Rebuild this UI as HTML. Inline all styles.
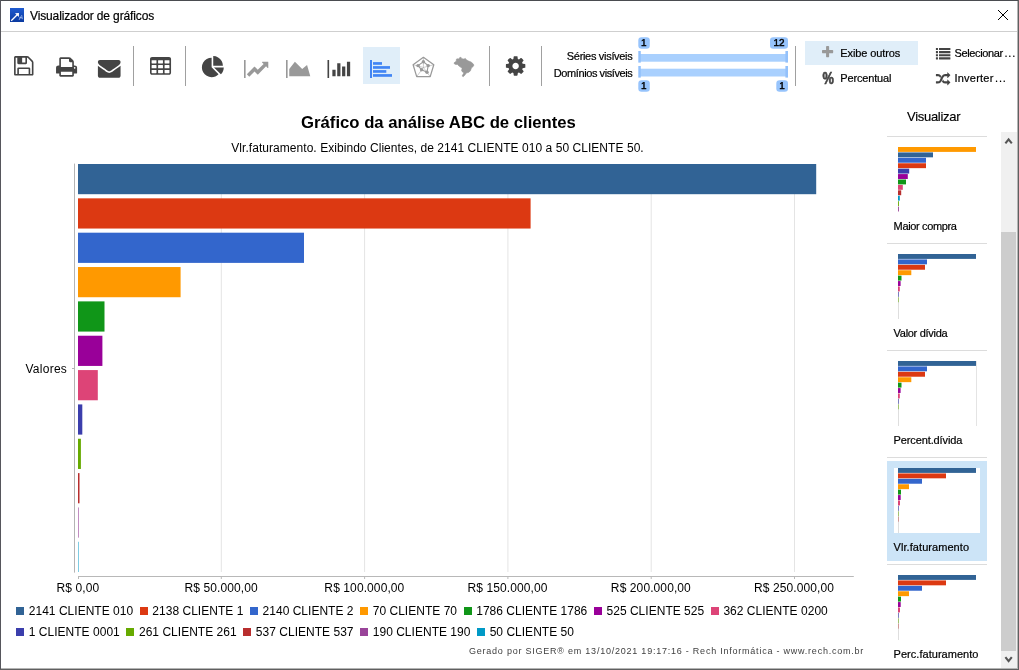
<!DOCTYPE html>
<html lang="pt-BR"><head><meta charset="utf-8"><title>Visualizador de gráficos</title>
<style>
html,body{margin:0;padding:0}
body{width:1019px;height:670px;overflow:hidden;background:#fff;position:relative;font-family:"Liberation Sans",sans-serif;color:#000}
.abs{position:absolute;white-space:nowrap;line-height:1}
svg{position:absolute;left:0;top:0}
.ui{font-size:11px;color:#000;-webkit-text-stroke:0.2px #000}
.t{position:absolute;white-space:nowrap;line-height:14px;height:14px}
.leg{position:absolute;left:16.2px;white-space:nowrap;font-size:12px;line-height:14px;height:14px}
.li{display:inline-block;margin-right:6.6px;letter-spacing:0.02px}
.li i{display:inline-block;width:8px;height:8px;margin-right:4.6px;vertical-align:-0.2px}
.bd{position:absolute;background:#5c5c5c}
.badge{position:absolute;font-size:10px;font-weight:normal;-webkit-text-stroke:0.45px #000;line-height:11.4px;height:11.4px;text-align:center;color:#000}
</style></head><body>
<svg width="1019" height="670" viewBox="0 0 1019 670" shape-rendering="auto">
<rect x="220.8" y="164" width="1" height="408" fill="#e4e4e4"/>
<rect x="364.1" y="164" width="1" height="408" fill="#e4e4e4"/>
<rect x="507.4" y="164" width="1" height="408" fill="#e4e4e4"/>
<rect x="650.7" y="164" width="1" height="408" fill="#e4e4e4"/>
<rect x="794.0" y="164" width="1" height="408" fill="#e4e4e4"/>
<rect x="78.0" y="576" width="1" height="3" fill="#b8b8b8"/>
<rect x="220.8" y="576" width="1" height="3" fill="#b8b8b8"/>
<rect x="364.1" y="576" width="1" height="3" fill="#b8b8b8"/>
<rect x="507.4" y="576" width="1" height="3" fill="#b8b8b8"/>
<rect x="650.7" y="576" width="1" height="3" fill="#b8b8b8"/>
<rect x="794.0" y="576" width="1" height="3" fill="#b8b8b8"/>
<rect x="74" y="163.6" width="1" height="409" fill="#b4b4b4"/>
<rect x="72" y="368" width="2" height="1" fill="#b4b4b4"/>
<rect x="78" y="576" width="775.8" height="1" fill="#b8b8b8"/>
<rect x="78" y="164.00" width="738.2" height="30.2" fill="#316395"/>
<rect x="78" y="198.34" width="452.6" height="30.2" fill="#dc3912"/>
<rect x="78" y="232.69" width="226.0" height="30.2" fill="#3366cc"/>
<rect x="78" y="267.03" width="102.6" height="30.2" fill="#ff9900"/>
<rect x="78" y="301.38" width="26.5" height="30.2" fill="#109618"/>
<rect x="78" y="335.73" width="24.4" height="30.2" fill="#990099"/>
<rect x="78" y="370.07" width="19.8" height="30.2" fill="#dd4477"/>
<rect x="78" y="404.41" width="4.3" height="30.2" fill="#3b3eac"/>
<rect x="78" y="438.76" width="2.9" height="30.2" fill="#66aa00"/>
<rect x="78" y="473.11" width="1.5" height="30.2" fill="#b82e2e"/>
<rect x="78" y="507.45" width="0.6" height="30.2" fill="#994499"/>
<rect x="78" y="541.79" width="0.5" height="30.2" fill="#0099c6"/>
<rect x="887" y="136" width="100" height="1" fill="#dcdcdc"/>
<rect x="887" y="243" width="100" height="1" fill="#dcdcdc"/>
<rect x="887" y="350" width="100" height="1" fill="#dcdcdc"/>
<rect x="887" y="457" width="100" height="1" fill="#dcdcdc"/>
<rect x="887" y="564" width="100" height="1" fill="#dcdcdc"/>
<rect x="887" y="461" width="100" height="100" fill="#cce4f7"/><rect x="894" y="468" width="86" height="65" fill="#fff"/>
<rect x="898" y="147.00" width="78" height="4.9" fill="#ff9900"/>
<rect x="898" y="152.42" width="35" height="4.9" fill="#316395"/>
<rect x="898" y="157.83" width="28" height="4.9" fill="#3366cc"/>
<rect x="898" y="163.25" width="28" height="4.9" fill="#dc3912"/>
<rect x="898" y="168.67" width="11.2" height="4.9" fill="#3b3eac"/>
<rect x="898" y="174.08" width="9.8" height="4.9" fill="#990099"/>
<rect x="898" y="179.50" width="8" height="4.9" fill="#109618"/>
<rect x="898" y="184.92" width="4.8" height="4.9" fill="#dd4477"/>
<rect x="898" y="190.33" width="3.2" height="4.9" fill="#b82e2e"/>
<rect x="898" y="195.75" width="1.8" height="4.9" fill="#0099c6"/>
<rect x="898" y="201.17" width="0.9" height="4.9" fill="#66aa00"/>
<rect x="898" y="206.58" width="0.9" height="4.9" fill="#994499"/>
<rect x="898" y="254" width="0.6" height="65" fill="#c8c8c8"/>
<rect x="898" y="254.00" width="78" height="4.9" fill="#316395"/>
<rect x="898" y="259.42" width="29" height="4.9" fill="#3366cc"/>
<rect x="898" y="264.83" width="27" height="4.9" fill="#dc3912"/>
<rect x="898" y="270.25" width="13.3" height="4.9" fill="#ff9900"/>
<rect x="898" y="275.67" width="3.5" height="4.9" fill="#109618"/>
<rect x="898" y="281.08" width="2.6" height="4.9" fill="#990099"/>
<rect x="898" y="286.50" width="1.8" height="4.9" fill="#dd4477"/>
<rect x="898" y="291.92" width="0.6" height="4.9" fill="#3b3eac"/>
<rect x="898" y="297.33" width="0.5" height="4.9" fill="#66aa00"/>
<rect x="898" y="361" width="0.6" height="65" fill="#c8c8c8"/>
<rect x="976" y="361" width="0.7" height="65" fill="#d8d8d8"/>
<rect x="898" y="361.00" width="78" height="4.9" fill="#316395"/>
<rect x="898" y="366.42" width="29" height="4.9" fill="#3366cc"/>
<rect x="898" y="371.83" width="27" height="4.9" fill="#dc3912"/>
<rect x="898" y="377.25" width="13.3" height="4.9" fill="#ff9900"/>
<rect x="898" y="382.67" width="3.5" height="4.9" fill="#109618"/>
<rect x="898" y="388.08" width="2.6" height="4.9" fill="#990099"/>
<rect x="898" y="393.50" width="1.8" height="4.9" fill="#dd4477"/>
<rect x="898" y="398.92" width="0.6" height="4.9" fill="#3b3eac"/>
<rect x="898" y="404.33" width="0.5" height="4.9" fill="#66aa00"/>
<rect x="898" y="468" width="0.6" height="65" fill="#c8c8c8"/>
<rect x="898" y="468.00" width="78" height="4.9" fill="#316395"/>
<rect x="898" y="473.42" width="48" height="4.9" fill="#dc3912"/>
<rect x="898" y="478.83" width="24" height="4.9" fill="#3366cc"/>
<rect x="898" y="484.25" width="11" height="4.9" fill="#ff9900"/>
<rect x="898" y="489.67" width="3" height="4.9" fill="#109618"/>
<rect x="898" y="495.08" width="2.7" height="4.9" fill="#990099"/>
<rect x="898" y="500.50" width="2" height="4.9" fill="#dd4477"/>
<rect x="898" y="505.92" width="0.6" height="4.9" fill="#3b3eac"/>
<rect x="898" y="511.33" width="0.5" height="4.9" fill="#66aa00"/>
<rect x="898" y="516.75" width="0.4" height="4.9" fill="#b82e2e"/>
<rect x="898" y="575" width="0.6" height="65" fill="#c8c8c8"/>
<rect x="898" y="575.00" width="78" height="4.9" fill="#316395"/>
<rect x="898" y="580.42" width="48" height="4.9" fill="#dc3912"/>
<rect x="898" y="585.83" width="24" height="4.9" fill="#3366cc"/>
<rect x="898" y="591.25" width="11" height="4.9" fill="#ff9900"/>
<rect x="898" y="596.67" width="3" height="4.9" fill="#109618"/>
<rect x="898" y="602.08" width="2.7" height="4.9" fill="#990099"/>
<rect x="898" y="607.50" width="2" height="4.9" fill="#dd4477"/>
<rect x="898" y="612.92" width="0.6" height="4.9" fill="#3b3eac"/>
<rect x="898" y="618.33" width="0.5" height="4.9" fill="#66aa00"/>
<rect x="898" y="623.75" width="0.4" height="4.9" fill="#b82e2e"/>
<defs><clipPath id="ck"><rect x="0" y="40" width="1019" height="38"/></clipPath></defs>
<rect x="363" y="47" width="37" height="37" fill="#e0eef9"/>
<rect x="805" y="41" width="113" height="24" fill="#e0eef9"/>
<rect x="133" y="46" width="1" height="40" fill="#a0a0a0"/>
<rect x="185" y="46" width="1" height="40" fill="#a0a0a0"/>
<rect x="489" y="46" width="1" height="40" fill="#a0a0a0"/>
<rect x="541" y="46" width="1" height="40" fill="#a0a0a0"/>
<rect x="795" y="46" width="1" height="40" fill="#a0a0a0"/>
<g><path fill="#444444" transform="translate(14.050,73.910) scale(0.012649,-0.012649)" d="M384 0h768v384h-768v-384zM1280 0h128v896q0 14 -10 38.5t-20 34.5l-281 281q-10 10 -34 20t-39 10v-416q0 -40 -28 -68t-68 -28h-576q-40 0 -68 28t-28 68v416h-128v-1280h128v416q0 40 28 68t68 28h832q40 0 68 -28t28 -68v-416zM896 928v320q0 13 -9.5 22.5t-22.5 9.5 h-192q-13 0 -22.5 -9.5t-9.5 -22.5v-320q0 -13 9.5 -22.5t22.5 -9.5h192q13 0 22.5 9.5t9.5 22.5zM1536 896v-928q0 -40 -28 -68t-68 -28h-1344q-40 0 -68 28t-28 68v1344q0 40 28 68t68 28h928q40 0 88 -20t76 -48l280 -280q28 -28 48 -76t20 -88z"/></g>
<g><path fill="#444444" transform="translate(56.050,75.110) scale(0.012649,-0.012649)" d="M384 0h896v256h-896v-256zM384 640h896v384h-160q-40 0 -68 28t-28 68v160h-640v-640zM1536 576q0 26 -19 45t-45 19t-45 -19t-19 -45t19 -45t45 -19t45 19t19 45zM1664 576v-416q0 -13 -9.5 -22.5t-22.5 -9.5h-224v-160q0 -40 -28 -68t-68 -28h-960q-40 0 -68 28t-28 68 v160h-224q-13 0 -22.5 9.5t-9.5 22.5v416q0 79 56.5 135.5t135.5 56.5h64v544q0 40 28 68t68 28h672q40 0 88 -20t76 -48l152 -152q28 -28 48 -76t20 -88v-256h64q79 0 135.5 -56.5t56.5 -135.5z"/></g>
<g><path fill="#444444" transform="translate(97.900,76.141) scale(0.012649,-0.012649)" d="M1792 826v-794q0 -66 -47 -113t-113 -47h-1472q-66 0 -113 47t-47 113v794q44 -49 101 -87q362 -246 497 -345q57 -42 92.5 -65.5t94.5 -48t110 -24.5h1h1q51 0 110 24.5t94.5 48t92.5 65.5q170 123 498 345q57 39 100 87zM1792 1120q0 -79 -49 -151t-122 -123 q-376 -261 -468 -325q-10 -7 -42.5 -30.5t-54 -38t-52 -32.5t-57.5 -27t-50 -9h-1h-1q-23 0 -50 9t-57.5 27t-52 32.5t-54 38t-42.5 30.5q-91 64 -262 182.5t-205 142.5q-62 42 -117 115.5t-55 136.5q0 78 41.5 130t118.5 52h1472q65 0 112.5 -47t47.5 -113z"/></g>
<g><path fill="#444444" transform="translate(150.000,74.760) scale(0.012649,-0.012649)" d="M512 160v192q0 14 -9 23t-23 9h-320q-14 0 -23 -9t-9 -23v-192q0 -14 9 -23t23 -9h320q14 0 23 9t9 23zM512 544v192q0 14 -9 23t-23 9h-320q-14 0 -23 -9t-9 -23v-192q0 -14 9 -23t23 -9h320q14 0 23 9t9 23zM1024 160v192q0 14 -9 23t-23 9h-320q-14 0 -23 -9t-9 -23 v-192q0 -14 9 -23t23 -9h320q14 0 23 9t9 23zM512 928v192q0 14 -9 23t-23 9h-320q-14 0 -23 -9t-9 -23v-192q0 -14 9 -23t23 -9h320q14 0 23 9t9 23zM1024 544v192q0 14 -9 23t-23 9h-320q-14 0 -23 -9t-9 -23v-192q0 -14 9 -23t23 -9h320q14 0 23 9t9 23zM1536 160v192 q0 14 -9 23t-23 9h-320q-14 0 -23 -9t-9 -23v-192q0 -14 9 -23t23 -9h320q14 0 23 9t9 23zM1024 928v192q0 14 -9 23t-23 9h-320q-14 0 -23 -9t-9 -23v-192q0 -14 9 -23t23 -9h320q14 0 23 9t9 23zM1536 544v192q0 14 -9 23t-23 9h-320q-14 0 -23 -9t-9 -23v-192 q0 -14 9 -23t23 -9h320q14 0 23 9t9 23zM1536 928v192q0 14 -9 23t-23 9h-320q-14 0 -23 -9t-9 -23v-192q0 -14 9 -23t23 -9h320q14 0 23 9t9 23zM1664 1248v-1088q0 -66 -47 -113t-113 -47h-1344q-66 0 -113 47t-47 113v1088q0 66 47 113t113 47h1344q66 0 113 -47t47 -113 z"/></g>
<g><path fill="#444444" transform="translate(201.900,75.529) scale(0.012649,-0.012649)" d="M768 646l546 -546q-106 -108 -247.5 -168t-298.5 -60q-209 0 -385.5 103t-279.5 279.5t-103 385.5t103 385.5t279.5 279.5t385.5 103v-762zM955 640h773q0 -157 -60 -298.5t-168 -247.5zM1664 768h-768v768q209 0 385.5 -103t279.5 -279.5t103 -385.5z"/></g>
<g clip-path="url(#ck)"><path fill="#999999" transform="translate(244.000,77.910) scale(0.012649,-0.012649)" d="M2048 0v-128h-2048v1536h128v-1408h1920zM1920 1248v-435q0 -21 -19.5 -29.5t-35.5 7.5l-121 121l-633 -633q-10 -10 -23 -10t-23 10l-233 233l-416 -416l-192 192l585 585q10 10 23 10t23 -10l233 -233l464 464l-121 121q-16 16 -7.5 35.5t29.5 19.5h435q14 0 23 -9 t9 -23z"/></g>
<g clip-path="url(#ck)"><path fill="#999999" transform="translate(286.000,77.910) scale(0.012649,-0.012649)" d="M2048 0v-128h-2048v1536h128v-1408h1920zM1664 1024l256 -896h-1664v576l448 576l576 -576z"/></g>
<g clip-path="url(#ck)"><path fill="#444444" transform="translate(327.500,77.910) scale(0.012649,-0.012649)" d="M640 640v-512h-256v512h256zM1024 1152v-1024h-256v1024h256zM2048 0v-128h-2048v1536h128v-1408h1920zM1408 896v-768h-256v768h256zM1792 1280v-1152h-256v1152h256z"/></g>
<g><path fill="#444444" transform="translate(505.900,74.010) scale(0.012649,-0.012649)" d="M1024 640q0 106 -75 181t-181 75t-181 -75t-75 -181t75 -181t181 -75t181 75t75 181zM1536 749v-222q0 -12 -8 -23t-20 -13l-185 -28q-19 -54 -39 -91q35 -50 107 -138q10 -12 10 -25t-9 -23q-27 -37 -99 -108t-94 -71q-12 0 -26 9l-138 108q-44 -23 -91 -38 q-16 -136 -29 -186q-7 -28 -36 -28h-222q-14 0 -24.5 8.5t-11.5 21.5l-28 184q-49 16 -90 37l-141 -107q-10 -9 -25 -9q-14 0 -25 11q-126 114 -165 168q-7 10 -7 23q0 12 8 23q15 21 51 66.5t54 70.5q-27 50 -41 99l-183 27q-13 2 -21 12.5t-8 23.5v222q0 12 8 23t19 13 l186 28q14 46 39 92q-40 57 -107 138q-10 12 -10 24q0 10 9 23q26 36 98.5 107.5t94.5 71.5q13 0 26 -10l138 -107q44 23 91 38q16 136 29 186q7 28 36 28h222q14 0 24.5 -8.5t11.5 -21.5l28 -184q49 -16 90 -37l142 107q9 9 24 9q13 0 25 -10q129 -119 165 -170q7 -8 7 -22 q0 -12 -8 -23q-15 -21 -51 -66.5t-54 -70.5q26 -50 41 -98l183 -28q13 -2 21 -12.5t8 -23.5z"/></g>
<rect x="370" y="60" width="2" height="18" fill="#4285f4"/>
<rect x="373" y="62.1" width="9.0" height="2.7" fill="#4285f4"/>
<rect x="373" y="66.1" width="17.0" height="2.7" fill="#4285f4"/>
<rect x="373" y="70.1" width="13.3" height="2.7" fill="#4285f4"/>
<rect x="373" y="74.1" width="19.0" height="2.7" fill="#4285f4"/>
<g fill="none" stroke="#999999" stroke-width="1.25" stroke-linejoin="round"><polygon points="423.4,57.3 433.8,64.7 430.2,76.6 416.7,76.6 413.1,64.7"/><g stroke-width="0.5"><path d="M423.4,67.5L423.4,57.3M423.4,67.5L433.8,64.7M423.4,67.5L430.2,76.6M423.4,67.5L416.7,76.6M423.4,67.5L413.1,64.7"/></g><polygon stroke-width="1.1" points="423.4,61.7 428.2,65.6 427,72.2 421.6,69.8 418,65.6"/></g>
<circle cx="423.4" cy="61.7" r="1.7" fill="#999999"/>
<circle cx="428.2" cy="65.6" r="1.7" fill="#999999"/>
<circle cx="427" cy="72.2" r="1.7" fill="#999999"/>
<circle cx="421.6" cy="69.8" r="1.7" fill="#999999"/>
<circle cx="418" cy="65.6" r="1.7" fill="#999999"/>
<polygon points="454.06,62.93 454.96,62.03 456.15,61.43 456.45,59.04 457.64,58.75 458.84,59.04 459.73,57.55 460.93,57.25 461.82,58.75 463.91,59.04 465.40,58.45 466.30,59.64 468.09,60.84 471.07,62.03 472.87,63.52 473.94,65.01 473.16,66.51 471.37,68.00 470.48,70.69 468.99,72.18 466.30,73.07 464.81,75.16 463.31,76.66 462.12,76.06 463.01,74.27 463.91,73.07 462.42,71.88 461.52,70.39 462.12,68.60 460.63,67.10 458.84,65.91 457.64,64.42 455.55,64.42 454.06,63.52" fill="#999999" stroke="#999999" stroke-width="0.6" stroke-linejoin="round"/>
<rect x="640" y="54" width="146" height="7.7" fill="#a9d0fe"/><rect x="640" y="68.7" width="146" height="7.8" fill="#a9d0fe"/>
<rect x="638.3" y="51" width="2.5" height="11.6" fill="#93c1fb"/><rect x="785.4" y="51" width="2.6" height="11.6" fill="#93c1fb"/>
<rect x="638.3" y="66" width="2.5" height="11.6" fill="#93c1fb"/><rect x="785.4" y="66" width="2.6" height="11.6" fill="#93c1fb"/>
<rect x="638.3" y="37.3" width="11.5" height="11.4" rx="3.2" fill="#97c4fc"/>
<rect x="770" y="37.3" width="18" height="11.4" rx="3.2" fill="#97c4fc"/>
<rect x="638.3" y="80.3" width="11.5" height="11.4" rx="3.2" fill="#97c4fc"/>
<rect x="776.3" y="80.3" width="11.7" height="11.4" rx="3.2" fill="#97c4fc"/>
<text transform="translate(643.9,46.2) scale(0.1)" font-family="Liberation Sans, sans-serif" font-size="100" text-anchor="middle" fill="#000" stroke="#000" stroke-width="4.5" text-rendering="geometricPrecision">1</text>
<text transform="translate(779,46.2) scale(0.1)" font-family="Liberation Sans, sans-serif" font-size="100" text-anchor="middle" fill="#000" stroke="#000" stroke-width="4.5" text-rendering="geometricPrecision">12</text>
<text transform="translate(643.9,89.2) scale(0.1)" font-family="Liberation Sans, sans-serif" font-size="100" text-anchor="middle" fill="#000" stroke="#000" stroke-width="4.5" text-rendering="geometricPrecision">1</text>
<text transform="translate(782,89.2) scale(0.1)" font-family="Liberation Sans, sans-serif" font-size="100" text-anchor="middle" fill="#000" stroke="#000" stroke-width="4.5" text-rendering="geometricPrecision">1</text>
<g><path fill="#999999" transform="translate(822.000,57.200) scale(0.007955,-0.007955)" d="M1408 800v-192q0 -40 -28 -68t-68 -28h-416v-416q0 -40 -28 -68t-68 -28h-192q-40 0 -68 28t-28 68v416h-416q-40 0 -68 28t-28 68v192q0 40 28 68t68 28h416v416q0 40 28 68t68 28h192q40 0 68 -28t28 -68v-416h416q40 0 68 -28t28 -68z"/></g>
<text id="pct" transform="translate(822.5,83.8) scale(0.78,0.97)" font-family="Liberation Sans, sans-serif" style="font-weight:bold" font-size="16.4" fill="#444" stroke="#444" stroke-width="0.7">%</text>
<g><path fill="#444444" transform="translate(935.900,59.393) scale(0.008092,-0.008092)" d="M256 224v-192q0 -13 -9.5 -22.5t-22.5 -9.5h-192q-13 0 -22.5 9.5t-9.5 22.5v192q0 13 9.5 22.5t22.5 9.5h192q13 0 22.5 -9.5t9.5 -22.5zM256 608v-192q0 -13 -9.5 -22.5t-22.5 -9.5h-192q-13 0 -22.5 9.5t-9.5 22.5v192q0 13 9.5 22.5t22.5 9.5h192q13 0 22.5 -9.5 t9.5 -22.5zM256 992v-192q0 -13 -9.5 -22.5t-22.5 -9.5h-192q-13 0 -22.5 9.5t-9.5 22.5v192q0 13 9.5 22.5t22.5 9.5h192q13 0 22.5 -9.5t9.5 -22.5zM1792 224v-192q0 -13 -9.5 -22.5t-22.5 -9.5h-1344q-13 0 -22.5 9.5t-9.5 22.5v192q0 13 9.5 22.5t22.5 9.5h1344 q13 0 22.5 -9.5t9.5 -22.5zM256 1376v-192q0 -13 -9.5 -22.5t-22.5 -9.5h-192q-13 0 -22.5 9.5t-9.5 22.5v192q0 13 9.5 22.5t22.5 9.5h192q13 0 22.5 -9.5t9.5 -22.5zM1792 608v-192q0 -13 -9.5 -22.5t-22.5 -9.5h-1344q-13 0 -22.5 9.5t-9.5 22.5v192q0 13 9.5 22.5 t22.5 9.5h1344q13 0 22.5 -9.5t9.5 -22.5zM1792 992v-192q0 -13 -9.5 -22.5t-22.5 -9.5h-1344q-13 0 -22.5 9.5t-9.5 22.5v192q0 13 9.5 22.5t22.5 9.5h1344q13 0 22.5 -9.5t9.5 -22.5zM1792 1376v-192q0 -13 -9.5 -22.5t-22.5 -9.5h-1344q-13 0 -22.5 9.5t-9.5 22.5v192 q0 13 9.5 22.5t22.5 9.5h1344q13 0 22.5 -9.5t9.5 -22.5z"/></g>
<g><path fill="#444444" transform="translate(935.900,84.470) scale(0.008092,-0.008092)" d="M666 1055q-60 -92 -137 -273q-22 45 -37 72.5t-40.5 63.5t-51 56.5t-63 35t-81.5 14.5h-224q-14 0 -23 9t-9 23v192q0 14 9 23t23 9h224q250 0 410 -225zM1792 256q0 -14 -9 -23l-320 -320q-9 -9 -23 -9q-13 0 -22.5 9.5t-9.5 22.5v192q-32 0 -85 -0.5t-81 -1t-73 1 t-71 5t-64 10.5t-63 18.5t-58 28.5t-59 40t-55 53.5t-56 69.5q59 93 136 273q22 -45 37 -72.5t40.5 -63.5t51 -56.5t63 -35t81.5 -14.5h256v192q0 14 9 23t23 9q12 0 24 -10l319 -319q9 -9 9 -23zM1792 1152q0 -14 -9 -23l-320 -320q-9 -9 -23 -9q-13 0 -22.5 9.5t-9.5 22.5 v192h-256q-48 0 -87 -15t-69 -45t-51 -61.5t-45 -77.5q-32 -62 -78 -171q-29 -66 -49.5 -111t-54 -105t-64 -100t-74 -83t-90 -68.5t-106.5 -42t-128 -16.5h-224q-14 0 -23 9t-9 23v192q0 14 9 23t23 9h224q48 0 87 15t69 45t51 61.5t45 77.5q32 62 78 171q29 66 49.5 111 t54 105t64 100t74 83t90 68.5t106.5 42t128 16.5h256v192q0 14 9 23t23 9q12 0 24 -10l319 -319q9 -9 9 -23z"/></g>
<path d="M998,10 L1008,20 M1008,10 L998,20" stroke="#000" stroke-width="1.0" fill="none"/>
<rect x="1001" y="132" width="16" height="536" fill="#f0f0f0"/><rect x="1001" y="232" width="15" height="419" fill="#cdcdcd"/>
<path d="M1005.4,143.3 L1008.6,139.4 L1011.8,143.3" stroke="#555" stroke-width="2.1" fill="none"/>
<path d="M1005.4,657.2 L1008.6,661.1 L1011.8,657.2" stroke="#555" stroke-width="2.1" fill="none"/>
</svg>
<div class="bd" style="left:1017px;top:1px;width:1px;height:668px;background:#b4b4b4"></div>
<div class="bd" style="left:1px;top:668px;width:1017px;height:1px;background:#b4b4b4"></div>
<div class="bd" style="left:0;top:0;width:1019px;height:1px;background:#4a4c50"></div>
<div class="bd" style="left:0;top:0;width:1px;height:670px;background:#56565c"></div>
<div class="bd" style="left:1018px;top:0;width:1px;height:670px;background:#606060"></div>
<div class="bd" style="left:0;top:669px;width:1019px;height:1px;background:#606060"></div>
<div class="abs" style="left:1px;top:31px;width:1016px;height:1px;background:#cfcfcf"></div>
<!-- app icon -->
<svg style="left:10px;top:8px" width="14" height="14" viewBox="0 0 14 14"><defs><linearGradient id="ig" x1="0" y1="0" x2="0" y2="1"><stop offset="0" stop-color="#1f5bd0"/><stop offset="1" stop-color="#0a3aa0"/></linearGradient></defs><rect width="14" height="14" fill="url(#ig)"/><path d="M1.2,12.8 L8,6" stroke="#fff" stroke-width="1.3"/><path d="M5,5.2 L9,5 L8.8,9 Z" fill="#fff"/><path d="M9,12 l3,-5 M10,9 l3,2 M9,10 l4,-1" stroke="#9db8ee" stroke-width="0.8"/></svg>
<div class="t" id="ttl" style="left:30px;top:8.5px;font-size:12px;letter-spacing:-0.13px;-webkit-text-stroke:0.2px #000">Visualizador de gráficos</div>
<!-- toolbar text -->
<div class="t ui" id="l1" style="left:566.8px;top:49px;letter-spacing:-0.31px">Séries visíveis</div>
<div class="t ui" id="l2" style="left:553.8px;top:66px;letter-spacing:-0.41px">Domínios visíveis</div>
<div class="t ui" id="b1" style="left:840.3px;top:45.5px;letter-spacing:-0.1px">Exibe outros</div>
<div class="t ui" id="b2" style="left:840.3px;top:71.2px;letter-spacing:-0.16px">Percentual</div>
<div class="t ui" id="b3" style="left:954.5px;top:46.3px;letter-spacing:-0.36px">Selecionar<span style="letter-spacing:0.85px;margin-left:1.5px">...</span></div>
<div class="t ui" id="b4" style="left:954.5px;top:71.1px;letter-spacing:0.22px">Inverter<span style="letter-spacing:0.85px;margin-left:1.5px">...</span></div>
<!-- chart text -->
<div class="t" id="ct" style="left:0;width:877px;text-align:center;top:112.5px;font-size:16.7px;font-weight:bold;line-height:20px;height:20px">Gráfico da análise ABC de clientes</div>
<div class="t" id="cs" style="left:0;width:875px;text-align:center;top:140.5px;font-size:12px;letter-spacing:0.05px">Vlr.faturamento. Exibindo Clientes, de 2141 CLIENTE 010 a 50 CLIENTE 50.</div>
<div class="t" id="va" style="left:25.5px;top:361.5px;font-size:12px;letter-spacing:0.26px">Valores</div>
<div class="t tk" style="left:17.9px;width:120px;text-align:center;top:580.5px;font-size:12px;letter-spacing:0.1px">R$ 0,00</div>
<div class="t tk" style="left:161.2px;width:120px;text-align:center;top:580.5px;font-size:12px;letter-spacing:0.1px">R$ 50.000,00</div>
<div class="t tk" style="left:304.4px;width:120px;text-align:center;top:580.5px;font-size:12px;letter-spacing:0.1px">R$ 100.000,00</div>
<div class="t tk" style="left:447.6px;width:120px;text-align:center;top:580.5px;font-size:12px;letter-spacing:0.1px">R$ 150.000,00</div>
<div class="t tk" style="left:590.9px;width:120px;text-align:center;top:580.5px;font-size:12px;letter-spacing:0.1px">R$ 200.000,00</div>
<div class="t tk" style="left:734.1px;width:120px;text-align:center;top:580.5px;font-size:12px;letter-spacing:0.1px">R$ 250.000,00</div>
<div class="leg" style="top:603.7px"><span class="li"><i style="background:#316395"></i>2141 CLIENTE 010</span><span class="li"><i style="background:#dc3912"></i>2138 CLIENTE 1</span><span class="li"><i style="background:#3366cc"></i>2140 CLIENTE 2</span><span class="li"><i style="background:#ff9900"></i>70 CLIENTE 70</span><span class="li"><i style="background:#109618"></i>1786 CLIENTE 1786</span><span class="li"><i style="background:#990099"></i>525 CLIENTE 525</span><span class="li"><i style="background:#dd4477"></i>362 CLIENTE 0200</span></div>
<div class="leg" style="top:624.7px"><span class="li"><i style="background:#3b3eac"></i>1 CLIENTE 0001</span><span class="li"><i style="background:#66aa00"></i>261 CLIENTE 261</span><span class="li"><i style="background:#b82e2e"></i>537 CLIENTE 537</span><span class="li"><i style="background:#994499"></i>190 CLIENTE 190</span><span class="li"><i style="background:#0099c6"></i>50 CLIENTE 50</span></div>
<div class="t" id="ft" style="left:469px;top:643.5px;font-size:9px;letter-spacing:0.77px;color:#404040">Gerado por SIGER® em 13/10/2021 19:17:16 - Rech Informática - www.rech.com.br</div>
<div class="t" id="vz" style="left:907px;top:108.6px;font-size:13px;letter-spacing:-0.29px;-webkit-text-stroke:0.15px #000;line-height:15px;height:15px">Visualizar</div>
<div class="t ui" style="left:893.6px;top:219.4px;letter-spacing:-0.35px">Maior compra</div>
<div class="t ui" style="left:893.6px;top:326.4px;letter-spacing:-0.3px">Valor dívida</div>
<div class="t ui" style="left:893.6px;top:433.4px;letter-spacing:-0.12px">Percent.dívida</div>
<div class="t ui" style="left:893.6px;top:540.4px;letter-spacing:0.06px">Vlr.faturamento</div>
<div class="t ui" style="left:893.6px;top:647.4px;letter-spacing:0.03px">Perc.faturamento</div>
</body></html>
